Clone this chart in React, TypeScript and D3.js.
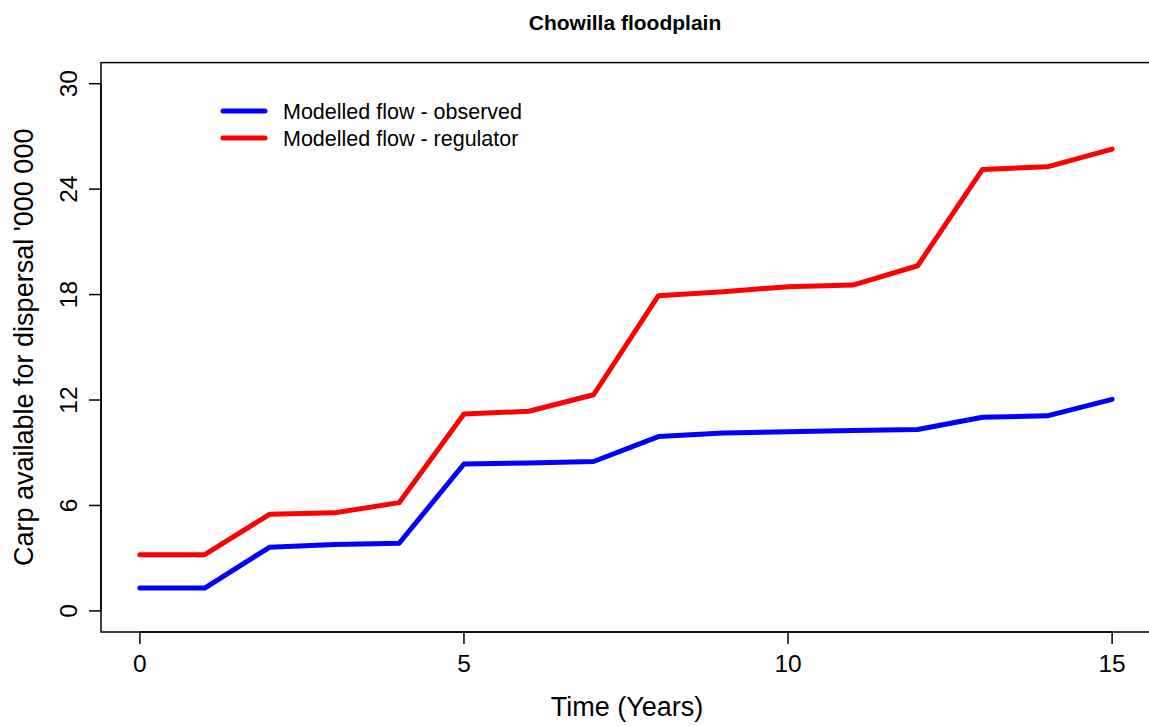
import React from "react";
import * as d3 from "d3";

const years = [0, 1, 2, 3, 4, 5, 6, 7, 8, 9, 10, 11, 12, 13, 14, 15];
const observed = [1.3, 1.3, 3.62, 3.78, 3.85, 8.36, 8.42, 8.5, 9.92, 10.12, 10.2, 10.26, 10.32, 11.02, 11.1, 12.04];
const regulator = [3.2, 3.2, 5.5, 5.58, 6.16, 11.2, 11.36, 12.3, 17.94, 18.16, 18.45, 18.54, 19.64, 25.12, 25.27, 26.28];
const xTicks = [0, 5, 10, 15];
const yTicks = [0, 6, 12, 18, 24, 30];
const seriesNames = ["Modelled flow - observed", "Modelled flow - regulator"];
const seriesColors = ["#0000FF", "#FF0000"];

const W = 1149;
const H = 726;
const font = "'Liberation Sans', Arial, Helvetica, sans-serif";

export default function App() {
  const x = d3.scaleLinear().domain([-0.6, 15.6]).range([101, 1151]);
  const y = d3.scaleLinear().domain([-1.2, 31.2]).range([632, 62.6]);
  const [x0, x1] = x.range();
  const [yb, yt] = y.range();

  const line = d3
    .line<number>()
    .x((_, i) => x(years[i]))
    .y((d) => y(d));

  const series = [observed, regulator];

  return (
    <svg
      width={W}
      height={H}
      style={{ position: "absolute", left: 0, top: 0, background: "#fff" }}
      fontFamily={font}
    >
      <rect x={0} y={0} width={W} height={H} fill="#fff" />
      {/* title */}
      <text x={(x0 + x1) / 2 - 1} y={30} textAnchor="middle" fontSize={21} fontWeight="bold" fill="#000">
        Chowilla floodplain
      </text>

      {/* series */}
      {series.map((s, k) => (
        <path
          key={k}
          d={line(s) || ""}
          fill="none"
          stroke={seriesColors[k]}
          strokeWidth={5}
          strokeLinejoin="round"
          strokeLinecap="round"
        />
      ))}

      {/* box */}
      <rect x={x0} y={yt} width={x1 - x0} height={yb - yt} fill="none" stroke="#000" strokeWidth={1.5} />

      {/* x axis */}
      <line x1={x(xTicks[0])} x2={x(xTicks[xTicks.length - 1])} y1={yb} y2={yb} stroke="#000" strokeWidth={1.5} />
      {xTicks.map((t) => (
        <g key={t}>
          <line x1={x(t)} x2={x(t)} y1={yb} y2={yb + 12} stroke="#000" strokeWidth={1.5} />
          <text x={x(t)} y={yb + 40} textAnchor="middle" fontSize={24.5} fill="#000">
            {t}
          </text>
        </g>
      ))}
      <text x={(x0 + x1) / 2 + 1} y={716} textAnchor="middle" fontSize={27} fill="#000">
        Time (Years)
      </text>

      {/* y axis */}
      <line x1={x0} x2={x0} y1={y(yTicks[0])} y2={y(yTicks[yTicks.length - 1])} stroke="#000" strokeWidth={1.5} />
      {yTicks.map((t) => (
        <g key={t}>
          <line x1={x0 - 12} x2={x0} y1={y(t)} y2={y(t)} stroke="#000" strokeWidth={1.5} />
          <text
            transform={`translate(${x0 - 24},${y(t)}) rotate(-90)`}
            textAnchor="middle"
            fontSize={24.5}
            fill="#000"
          >
            {t}
          </text>
        </g>
      ))}
      <text
        transform={`translate(33,${(yt + yb) / 2}) rotate(-90)`}
        textAnchor="middle"
        fontSize={27}
        fill="#000"
      >
        Carp available for dispersal '000 000
      </text>

      {/* legend */}
      {seriesNames.map((n, k) => (
        <g key={n}>
          <line x1={223} x2={265} y1={111 + k * 27} y2={111 + k * 27} stroke={seriesColors[k]} strokeWidth={5} strokeLinecap="round" />
          <text x={283} y={111 + k * 27} dy="0.36em" fontSize={21.5} fill="#000">
            {n}
          </text>
        </g>
      ))}
    </svg>
  );
}
